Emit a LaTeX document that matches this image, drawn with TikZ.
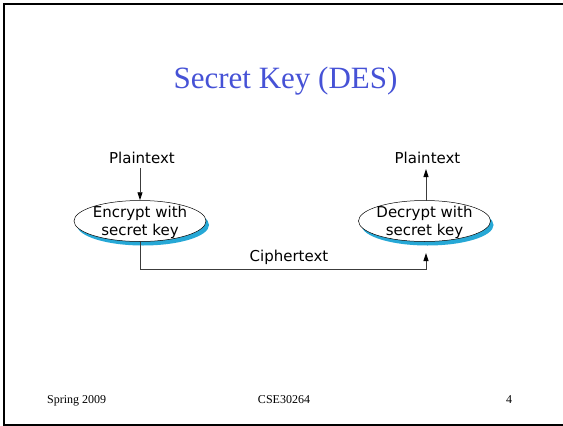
\documentclass[tikz,border=0pt]{standalone}
\usepackage{fontspec}
\setmainfont{Liberation Serif}
\newfontfamily\diagfont{DejaVu Sans}
\usetikzlibrary{shapes.geometric,arrows.meta,shadows}
\definecolor{titleblue}{RGB}{70,82,214}
\definecolor{shadowcyan}{RGB}{38,168,214}
\definecolor{linegray}{RGB}{60,60,60}
\tikzset{
  procbox/.style={ellipse, draw=black, line width=0.5pt, fill=white,
    minimum width=132pt, minimum height=41pt, inner xsep=-8pt, inner ysep=-6pt,
    align=center, font=\diagfont\fontsize{15}{18}\selectfont,
    drop shadow={shadow xshift=3pt, shadow yshift=-4pt, fill=shadowcyan, opacity=1}},
  lbl/.style={font=\diagfont\fontsize{15}{18}\selectfont, inner sep=0pt, anchor=base},
  conn/.style={draw=linegray, line width=0.9pt, -{Triangle[length=8pt,width=5pt,color=black,fill=black]}},
  foot/.style={font=\fontsize{12}{14}\selectfont, inner sep=0pt, anchor=base},
  framel/.style={line width=1.6pt, black}
}
\begin{document}
\begin{tikzpicture}[x=1pt,y=-1pt]
\useasboundingbox (0,0) rectangle (563,426);
% frame
\draw[framel] (563,4) -- (4,4) -- (4,425.2) -- (563,425.2);
% title
\node[font=\fontsize{31}{36}\selectfont, text=titleblue, inner sep=0pt, anchor=base] (title) at (285.5,88) {Secret Key (DES)};
% ellipses
\node[procbox] (enc) at (140,221) {\rule{0pt}{14pt}Encrypt with\\secret key};
\node[procbox] (dec) at (424.5,221) {\rule{0pt}{14pt}Decrypt with\\secret key};
% labels
\node[lbl] (pin) at (142,163) {Plaintext};
\node[lbl] (pout) at (427.5,163) {Plaintext};
\node[lbl] (ctext) at (289,261) {Ciphertext};
\coordinate (c1) at (enc.south |- 0,269);
\coordinate (c2) at (426,269);
\coordinate (dtop) at (426,200.5);
\coordinate (dbot) at (426,253);
% connectors
\draw[conn] (140,168) -- (enc.north);
\draw[conn] (dtop) -- (426,169);
\draw[conn] (enc.south) -- (c1) -- (c2) -- (dbot);
% footer
\node[foot, anchor=base west] (f1) at (47,403) {Spring 2009};
\node[foot] (f2) at (284,403) {CSE30264};
\node[foot] (f3) at (509,403) {4};
\end{tikzpicture}
\end{document}
